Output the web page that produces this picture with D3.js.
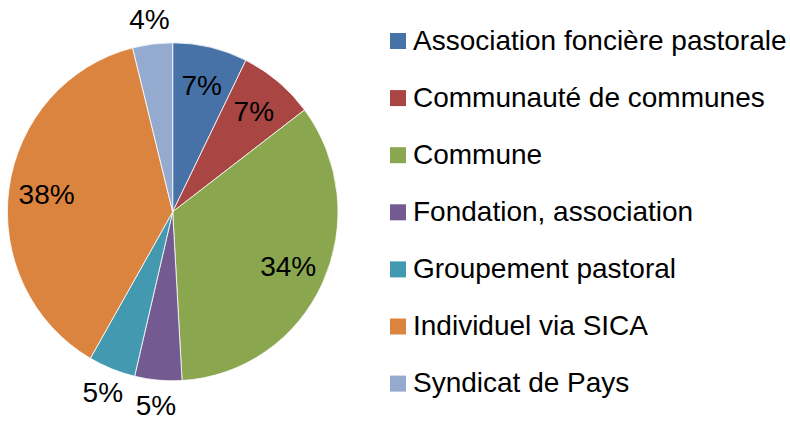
<!DOCTYPE html>
<html>
<head>
<meta charset="utf-8">
<script src="https://cdn.jsdelivr.net/npm/d3@7"></script>
<style>
  body { margin: 0; background: #fff; }
  svg { font-family: "Liberation Sans", Arial, sans-serif; }
</style>
</head>
<body>
<svg id="chart" width="790" height="423"></svg>
<script>
// categories and shares (in %)
var categories = ["Association foncière pastorale", "Communauté de communes", "Commune",
                  "Fondation, association", "Groupement pastoral", "Individuel via SICA", "Syndicat de Pays"]
var shares = [7.3, 7.4, 34.4, 4.6, 4.6, 37.8, 3.9]
var labels = ["7%", "7%", "34%", "5%", "5%", "38%", "4%"]
var colors = ["#4672A8", "#A94643", "#8AA74F", "#735A91", "#4399B0", "#DB843F", "#95AACF"]

var dims = {
    cx: 172.7,
    cy: 211.8,
    rx: 165.3,
    ry: 169,
    legendX: 390,
    legendY: 41,
    legendStep: 57.1,
    box: 16
}

var svg = d3.select("#chart")

var data = categories.map((c, i) => ({name: c, value: shares[i], label: labels[i], color: colors[i]}))

var pie = d3.pie().sort(null).value(d => d.value)
var arcs = pie(data)

var arc = d3.arc().innerRadius(0).outerRadius(dims.ry)
var insideArc = d3.arc().innerRadius(dims.ry * 0.77).outerRadius(dims.ry * 0.77)
var outsideArc = d3.arc().innerRadius(dims.ry + 25).outerRadius(dims.ry + 25)

// pie is slightly wider than tall in the picture -> squash horizontally
var pieG = svg.append("g")
    .attr("transform", `translate(${dims.cx},${dims.cy}) scale(${dims.rx / dims.ry},1)`)

pieG.selectAll("path")
    .data(arcs)
    .enter()
    .append("path")
    .attr("d", arc)
    .attr("fill", d => d.data.color)
    .attr("stroke", "#fff")
    .attr("stroke-width", 0.8)

// labels: small slices outside, others inside
svg.append("g")
    .selectAll("text")
    .data(arcs)
    .enter()
    .append("text")
    .attr("x", d => {
        var c = (d.data.value < 6 ? outsideArc : insideArc).centroid(d)
        return dims.cx + c[0] * dims.rx / dims.ry
    })
    .attr("y", d => {
        var c = (d.data.value < 6 ? outsideArc : insideArc).centroid(d)
        return dims.cy + c[1]
    })
    .attr("dy", "0.35em")
    .attr("text-anchor", "middle")
    .style("font-size", "28px")
    .attr("fill", "#000")
    .text(d => d.data.label)

// legend
var yLegend = d3.scalePoint()
    .domain(categories)
    .range([dims.legendY, dims.legendY + dims.legendStep * (categories.length - 1)])

var legend = svg.append("g")
    .selectAll("g")
    .data(data)
    .enter()
    .append("g")
    .attr("transform", d => `translate(${dims.legendX},${yLegend(d.name)})`)

legend.append("rect")
    .attr("x", 0)
    .attr("y", -dims.box / 2)
    .attr("width", dims.box)
    .attr("height", dims.box)
    .attr("fill", d => d.color)

legend.append("text")
    .attr("x", 23)
    .attr("y", 8.5)
    .style("font-size", "28px")
    .attr("fill", "#000")
    .text(d => d.name)
</script>
</body>
</html>
